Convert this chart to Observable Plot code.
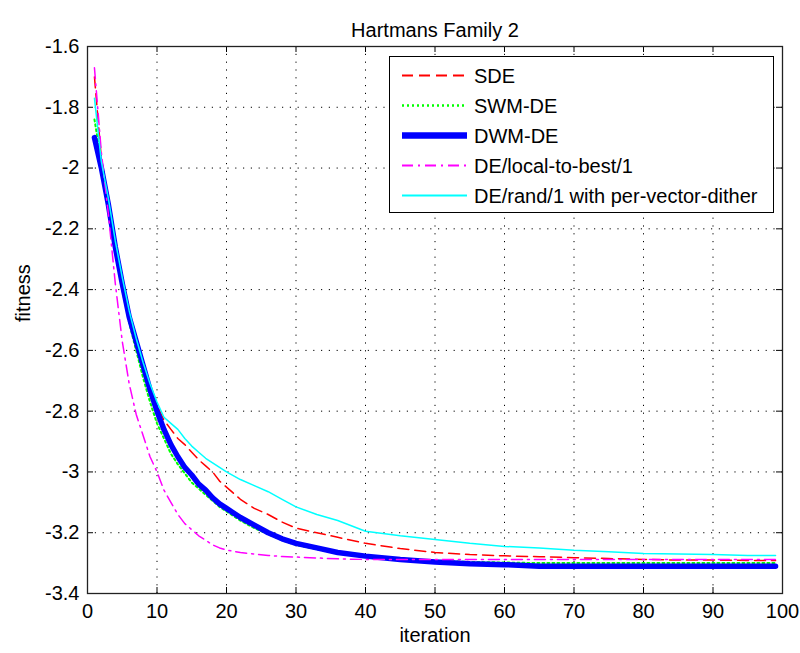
<!DOCTYPE html>
<html><head><meta charset="utf-8">
<script src="https://cdn.jsdelivr.net/npm/d3@7"></script>
<script src="https://cdn.jsdelivr.net/npm/@observablehq/plot@0.6"></script>
<style>body{margin:0;background:#fff}</style>
</head><body><div id="chart"></div>
<script>
const iterations = [1,2,3,4,5,6,7,8,9,10,11,12,13,14,15,16,17,18,19,20,22,24,26,28,30,33,36,40,45,50,55,60,65,70,75,80,85,90,95,99];
const sde   = [-1.70,-1.97,-2.11,-2.25,-2.37,-2.48,-2.57,-2.65,-2.72,-2.78,-2.83,-2.86,-2.89,-2.91,-2.935,-2.96,-2.98,-3.00,-3.03,-3.05,-3.09,-3.12,-3.14,-3.165,-3.185,-3.20,-3.215,-3.235,-3.252,-3.265,-3.272,-3.276,-3.279,-3.282,-3.285,-3.288,-3.29,-3.29,-3.291,-3.291];
const swmde = [-1.84,-1.98,-2.12,-2.27,-2.40,-2.51,-2.60,-2.69,-2.77,-2.84,-2.89,-2.94,-2.975,-3.005,-3.035,-3.055,-3.075,-3.095,-3.115,-3.13,-3.16,-3.185,-3.205,-3.225,-3.24,-3.255,-3.268,-3.278,-3.287,-3.293,-3.296,-3.298,-3.30,-3.30,-3.30,-3.30,-3.30,-3.30,-3.30,-3.30];
const dwmde = [-1.90,-2.00,-2.12,-2.26,-2.38,-2.49,-2.57,-2.65,-2.73,-2.80,-2.86,-2.91,-2.95,-2.985,-3.01,-3.04,-3.06,-3.085,-3.105,-3.12,-3.15,-3.175,-3.20,-3.22,-3.235,-3.25,-3.265,-3.277,-3.288,-3.296,-3.302,-3.305,-3.31,-3.31,-3.31,-3.31,-3.31,-3.31,-3.31,-3.31];
const localBest = [-1.67,-1.95,-2.15,-2.38,-2.57,-2.71,-2.81,-2.88,-2.95,-3.00,-3.06,-3.10,-3.14,-3.17,-3.19,-3.21,-3.225,-3.24,-3.25,-3.257,-3.265,-3.27,-3.275,-3.278,-3.28,-3.283,-3.286,-3.288,-3.288,-3.288,-3.288,-3.288,-3.288,-3.288,-3.288,-3.288,-3.288,-3.288,-3.288,-3.288];
const randDither = [-1.77,-1.98,-2.10,-2.24,-2.36,-2.47,-2.56,-2.64,-2.71,-2.77,-2.82,-2.84,-2.86,-2.89,-2.915,-2.935,-2.955,-2.97,-2.985,-3.00,-3.025,-3.045,-3.065,-3.09,-3.115,-3.14,-3.16,-3.195,-3.21,-3.222,-3.235,-3.245,-3.25,-3.258,-3.263,-3.268,-3.27,-3.272,-3.275,-3.275];

const seriesNames = ["SDE","SWM-DE","DWM-DE","DE/local-to-best/1","DE/rand/1 with per-vector-dither"];
const xTicks = [0,10,20,30,40,50,60,70,80,90,100];
const yTicks = [-3.4,-3.2,-3.0,-2.8,-2.6,-2.4,-2.2,-2.0,-1.8,-1.6];

const seriesValues = [sde, swmde, dwmde, localBest, randDither];
const styles = [
  {stroke:"#ff0000", strokeWidth:1.5, strokeDasharray:"11,6"},
  {stroke:"#00ff00", strokeWidth:2, strokeDasharray:"2,3"},
  {stroke:"#0000ff", strokeWidth:5.5, strokeDasharray:null},
  {stroke:"#ff00ff", strokeWidth:1.5, strokeDasharray:"11,5,2,5"},
  {stroke:"#00ffff", strokeWidth:1.5, strokeDasharray:null}
];
const tables = seriesValues.map((vals, s) => iterations.map((it, i) => ({iteration: it, fitness: vals[i], series: seriesNames[s]})));

const W = 800, H = 653, mL = 87, mR = 18, mT = 46, mB = 60;
const innerW = W - mL - mR, innerH = H - mT - mB;
const FONT = "'Liberation Sans', Arial, sans-serif";
const fmt = d => String(+(+d).toFixed(1));
const gridStyle = {stroke:"#000", strokeOpacity:1, strokeWidth:1, strokeDasharray:"1.2,6.6"};

const plot = Plot.plot({
  width: W, height: H,
  marginLeft: mL, marginRight: mR, marginTop: mT, marginBottom: mB,
  style: {fontFamily: FONT, fontSize: "20px", color: "#000", background: "#fff", overflow: "visible"},
  x: {domain: [0, 100]},
  y: {domain: [-3.4, -1.6]},
  marks: [
    Plot.gridX(xTicks.slice(1, -1), gridStyle),
    Plot.gridY(yTicks.slice(1, -1), gridStyle),
    Plot.tickX(xTicks, {x: d => d, insetTop: innerH - 6, stroke: "#000"}),
    Plot.tickX(xTicks, {x: d => d, insetBottom: innerH - 6, stroke: "#000"}),
    Plot.tickY(yTicks, {y: d => d, insetRight: innerW - 6, stroke: "#000"}),
    Plot.tickY(yTicks, {y: d => d, insetLeft: innerW - 6, stroke: "#000"}),
    Plot.axisX(xTicks, {tickSize: 0, tickPadding: 10, tickFormat: d => String(d), label: null, fontSize: 20}),
    Plot.axisY(yTicks, {tickSize: 0, tickPadding: 8, tickFormat: fmt, label: null, fontSize: 20}),
    ...tables.map((t, s) => Plot.line(t, {x: "iteration", y: "fitness", curve: "linear", ...styles[s]})),
    Plot.frame({stroke: "#222", strokeWidth: 1.3}),
    Plot.text(["Hartmans Family 2"], {frameAnchor: "top", dy: -23.5, fontSize: 20}),
    Plot.text(["iteration"], {frameAnchor: "bottom", dy: 48.5, fontSize: 20}),
    Plot.text(["fitness"], {frameAnchor: "left", dx: -63.5, dy: 2, rotate: -90, fontSize: 20})
  ]
});
document.getElementById("chart").appendChild(plot);

// Legend box (layout only)
const svg = d3.select(plot);
const lg = svg.append("g").attr("font-family", FONT).attr("font-size", 20).attr("text-anchor", "start");
lg.append("rect").attr("x", 389.5).attr("y", 56.5).attr("width", 384).attr("height", 156)
  .attr("fill", "#fff").attr("stroke", "#000").attr("stroke-width", 1);
seriesNames.forEach((name, i) => {
  const cy = 75.5 + i * 30;
  const st = styles[i];
  const ln = lg.append("line").attr("x1", 402).attr("x2", 467).attr("y1", cy).attr("y2", cy)
    .style("stroke", st.stroke).style("stroke-width", i === 2 ? 6.5 : (i === 1 ? 2.5 : 2));
  if (st.strokeDasharray) ln.style("stroke-dasharray", st.strokeDasharray);
  lg.append("text").attr("x", 474).attr("y", cy).attr("dy", "0.35em").style("fill", "#000").text(name);
});
</script>
</body></html>
